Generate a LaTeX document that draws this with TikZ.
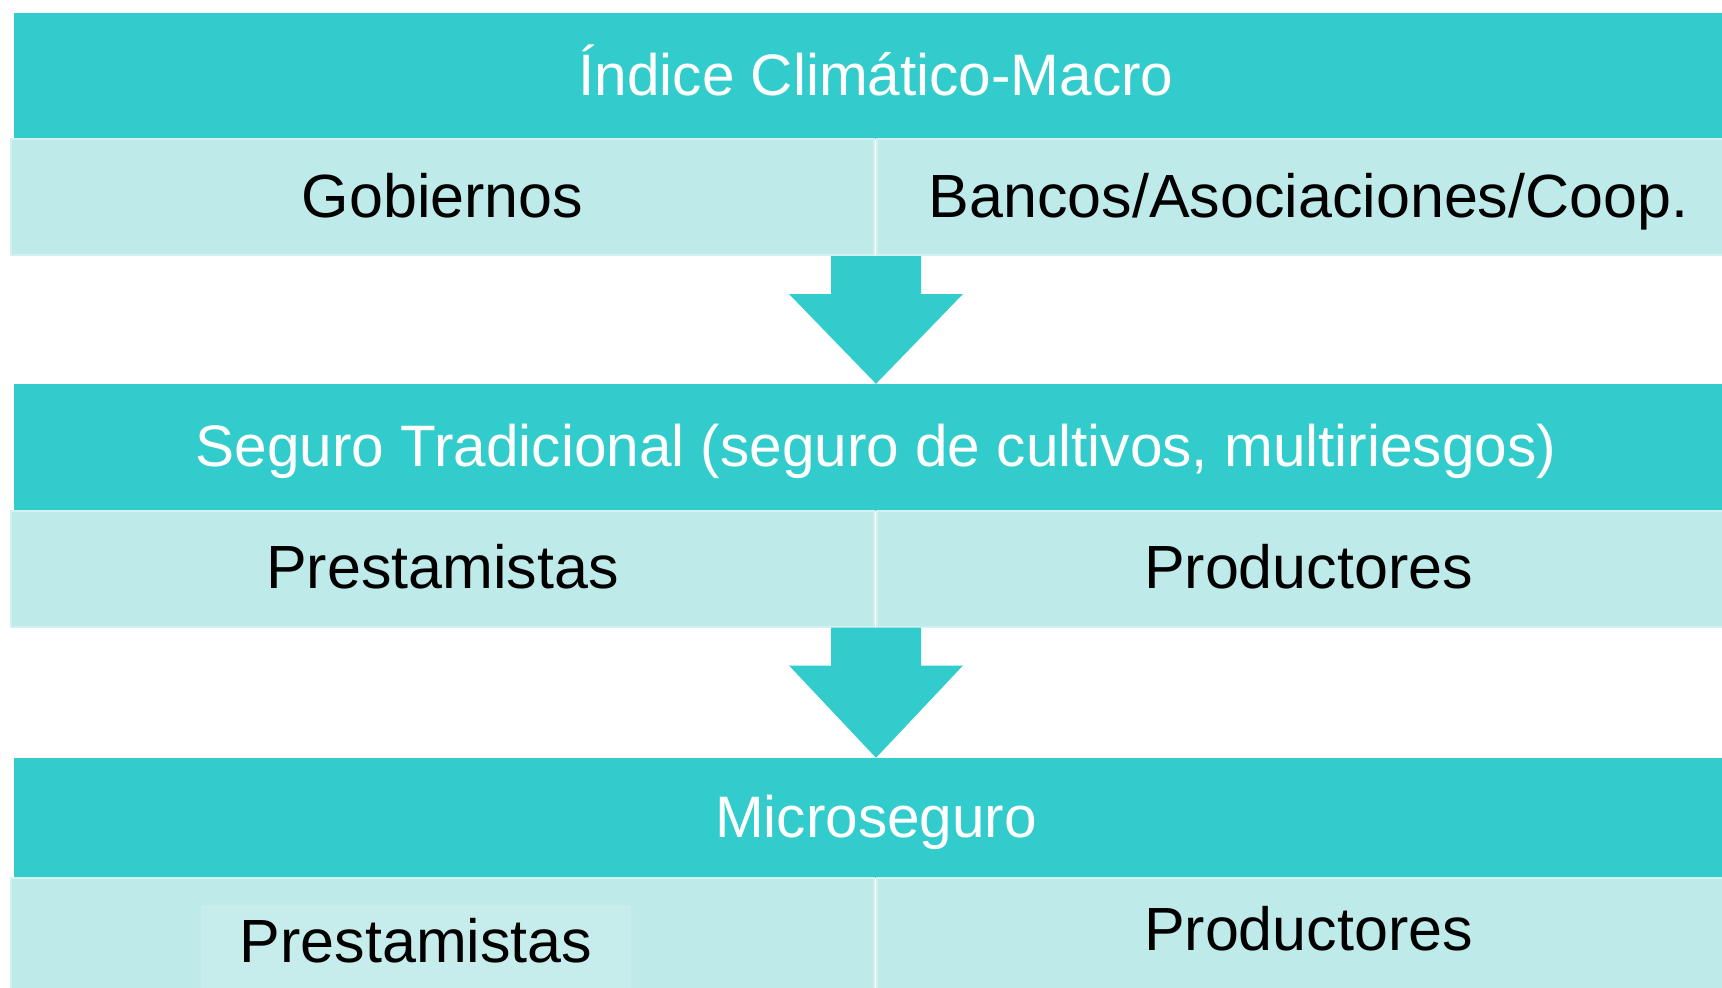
\documentclass[tikz,border=0pt]{standalone}
\usepackage{fontspec}
\setmainfont{Liberation Sans}
\usetikzlibrary{calc}
\definecolor{bandteal}{HTML}{33CCCC}
\definecolor{celllight}{HTML}{BEEAE9}
\definecolor{celledge}{HTML}{D3F1F0}
\definecolor{cellinner}{HTML}{C6ECEB}
\begin{document}
\begin{tikzpicture} [
                x=1pt, y=1pt,
                band/.style={fill=bandteal, text=white, inner sep=0pt,
                    minimum width=1724pt, text height=42pt, text depth=4pt,
                    font=\fontsize{58.5}{64}\selectfont},
                cell/.style={fill=celllight, draw=celledge, line width=2pt, inner sep=0pt,
                    minimum width=863pt, minimum height=116pt, text height=44pt, text depth=4pt,
                    font=\fontsize{61}{66}\selectfont},
                flow/.style={fill=bandteal},
            ]
            \clip (0,0) rectangle (1722,-988);
            % First we draw the dark bands
            \foreach \pos/\h/\name/\txt in {
                    {(876,-76)/126/band1/Índice Climático-Macro},
                    {(876,-447.5)/127/band2/Seguro Tradicional (seguro de cultivos, multiriesgos)},
                    {(876,-818)/120/band3/Microseguro}}
                \node[band, minimum height=\h pt] (\name) at \pos {\txt};
            % Light rows below each band
            \node[cell] (gob) at (442.5,-197) {Gobiernos};
            \node[cell] (bancos) at (1308.5,-197) {Bancos/Asociaciones/Coop.};
            \node[cell] (pre2) at (442.5,-568.5) {Prestamistas};
            \node[cell] (prod2) at (1308.5,-568.5) {Productores};
            \node[cell, minimum height=120pt] (pre3) at (442.5,-938) {};
            \node[cell, minimum height=120pt, text depth=19pt] (prod3) at (1308.5,-938) {Productores};
            \node[fill=cellinner, inner xsep=0pt, inner ysep=13pt, minimum width=430pt,
                text height=44pt, text depth=30pt, anchor=north,
                font=\fontsize{61}{66}\selectfont] (pre3txt) at (416,-905) {Prestamistas};
            % Block arrows from one row down to the next band
            \foreach \row/\next in {gob/band2, pre2/band3} {
                \coordinate (s) at (\next.north |- \row.south);
                \fill[flow] ([xshift=-45pt]s) -- ([xshift=-45pt,yshift=-38pt]s)
                    -- ([xshift=-87pt,yshift=-38pt]s) -- (\next.north)
                    -- ([xshift=87pt,yshift=-38pt]s) -- ([xshift=45pt,yshift=-38pt]s)
                    -- ([xshift=45pt]s) -- cycle;
            }
        \end{tikzpicture}
\end{document}
